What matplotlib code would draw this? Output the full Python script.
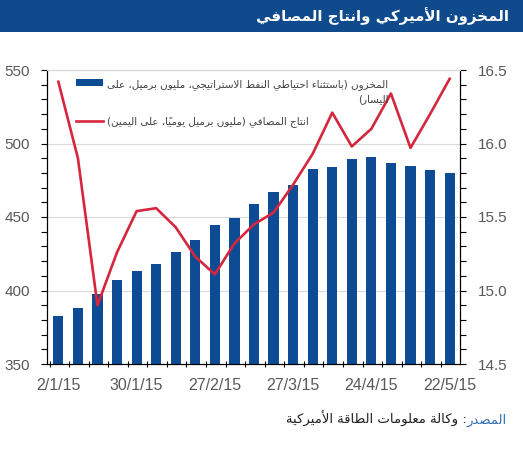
import matplotlib
matplotlib.use("Agg")
import matplotlib.pyplot as plt
from matplotlib.ticker import MultipleLocator, FixedLocator
import numpy as np

# ---------------- data ----------------
dates = ["2/1/15", "9/1/15", "16/1/15", "23/1/15", "30/1/15", "6/2/15", "13/2/15",
         "20/2/15", "27/2/15", "6/3/15", "13/3/15", "20/3/15", "27/3/15", "3/4/15",
         "10/4/15", "17/4/15", "24/4/15", "1/5/15", "8/5/15", "15/5/15", "22/5/15"]
stocks = [382.7, 387.9, 397.6, 407.1, 413.3, 418.2, 426.0, 434.4, 444.3, 449.3, 458.6,
          466.8, 471.5, 482.7, 483.8, 489.2, 491.0, 487.0, 484.9, 482.2, 479.7]
refinery = [16.42, 15.90, 14.90, 15.26, 15.54, 15.56, 15.43, 15.23, 15.11, 15.32, 15.45,
            15.53, 15.72, 15.93, 16.21, 15.98, 16.10, 16.34, 15.97, 16.20, 16.44]
label_every = 4

title_txt = "المخزون الأميركي وانتاج المصافي"
leg1_l1 = "المخزون (باستثناء احتياطي النفط الاستراتيجي، مليون برميل، على"
leg1_l2 = "اليسار)"
leg2_txt = "انتاج المصافي (مليون برميل يومياً، على اليمين)"
src_head = "المصدر"
src_body = ": وكالة معلومات الطاقة الأميركية"

# ---------------- minimal Arabic shaping ----------------
_ranges = [('\u0621', 0xFE80, 1), ('\u0622', 0xFE81, 2), ('\u0623', 0xFE83, 2),
           ('\u0624', 0xFE85, 2), ('\u0625', 0xFE87, 2), ('\u0626', 0xFE89, 4),
           ('\u0627', 0xFE8D, 2), ('\u0628', 0xFE8F, 4), ('\u0629', 0xFE93, 2),
           ('\u062A', 0xFE95, 4), ('\u062B', 0xFE99, 4), ('\u062C', 0xFE9D, 4),
           ('\u062D', 0xFEA1, 4), ('\u062E', 0xFEA5, 4), ('\u062F', 0xFEA9, 2),
           ('\u0630', 0xFEAB, 2), ('\u0631', 0xFEAD, 2), ('\u0632', 0xFEAF, 2),
           ('\u0633', 0xFEB1, 4), ('\u0634', 0xFEB5, 4), ('\u0635', 0xFEB9, 4),
           ('\u0636', 0xFEBD, 4), ('\u0637', 0xFEC1, 4), ('\u0638', 0xFEC5, 4),
           ('\u0639', 0xFEC9, 4), ('\u063A', 0xFECD, 4), ('\u0641', 0xFED1, 4),
           ('\u0642', 0xFED5, 4), ('\u0643', 0xFED9, 4), ('\u0644', 0xFEDD, 4),
           ('\u0645', 0xFEE1, 4), ('\u0646', 0xFEE5, 4), ('\u0647', 0xFEE9, 4),
           ('\u0648', 0xFEED, 2), ('\u0649', 0xFEEF, 2), ('\u064A', 0xFEF1, 4)]
FORMS = {c: tuple(chr(s + k) for k in range(n)) for c, s, n in _ranges}
LAMALEF = {'\u0622': ('\uFEF5', '\uFEF6'), '\u0623': ('\uFEF7', '\uFEF8'),
           '\u0625': ('\uFEF9', '\uFEFA'), '\u0627': ('\uFEFB', '\uFEFC')}
MIRROR = {'(': ')', ')': '('}


def shape(s):
    toks = []
    i = 0
    while i < len(s):
        c = s[i]
        if '\u064B' <= c <= '\u0652' and toks:
            toks[-1][1].append(c)
            i += 1
            continue
        if c == '\u0644' and i + 1 < len(s) and s[i + 1] in LAMALEF:
            toks.append([('LA', s[i + 1]), []])
            i += 2
            continue
        toks.append([c, []])
        i += 1

    def kind(t):
        if isinstance(t, tuple):
            return 'R'
        n = len(FORMS.get(t, ()))
        return 'D' if n == 4 else ('R' if n == 2 else 'U')

    out = []
    for k, (t, marks) in enumerate(toks):
        kd = kind(t)
        pk = kind(toks[k - 1][0]) if k > 0 else 'U'
        nk = kind(toks[k + 1][0]) if k + 1 < len(toks) else 'U'
        jp = kd in 'DR' and pk == 'D'
        jn = kd == 'D' and nk in 'DR'
        if isinstance(t, tuple):
            g = LAMALEF[t[1]][1 if jp else 0]
        elif kd == 'U':
            g = FORMS[t][0] if t in FORMS else MIRROR.get(t, t)
        else:
            f = FORMS[t]
            idx = 3 if (jp and jn) else (1 if jp else (2 if jn else 0))
            g = f[idx]
        out.append(g + ''.join(marks))
    return ''.join(reversed(out))


# ---------------- figure ----------------
plt.rcParams['font.family'] = ['Liberation Sans', 'DejaVu Sans']
fig = plt.figure(figsize=(5.23, 4.5), dpi=100)

# title band
fig.patches.append(plt.Rectangle((0, 1 - 32 / 450), 1, 32 / 450, transform=fig.transFigure,
                                 facecolor='#0f4a8c', edgecolor='none', zorder=0))
fig.text(509 / 523, 1 - 16 / 450, shape(title_txt), color='white', fontsize=10.8,
         fontweight='bold', ha='right', va='center', family=['DejaVu Sans'])

ax = fig.add_axes([47 / 523, (450 - 364) / 450, 413 / 523, 294 / 450])
x = np.arange(len(dates))
bars = ax.bar(x, stocks, width=0.52, color='#0d4c94', zorder=2)
ax.set_ylim(350, 550)
ax.set_xlim(-0.58, len(dates) - 1 + 0.53)
ax.yaxis.set_major_locator(MultipleLocator(50))
ax.yaxis.set_minor_locator(MultipleLocator(10))
ax.grid(axis='y', color='#d9d9d9', linewidth=0.8, zorder=0)
ax.set_axisbelow(True)

ax.set_xticks(x[::label_every])
ax.set_xticklabels(dates[::label_every])
ax.xaxis.set_minor_locator(FixedLocator(np.arange(len(dates) + 1) - 0.45))
ax.tick_params(axis='x', which='major', length=0, pad=10, labelsize=11.5, labelcolor='#595959')
ax.tick_params(axis='x', which='minor', length=5, direction='inout', width=0.8)
ax.tick_params(axis='y', which='both', length=4, direction='out', width=0.8,
               labelsize=11, labelcolor='#595959', pad=8)

ax2 = ax.twinx()
line, = ax2.plot(x, refinery, color='#d5263d', linewidth=1.9, zorder=3)
ax2.set_ylim(14.5, 16.5)
ax2.yaxis.set_major_locator(MultipleLocator(0.5))
ax2.yaxis.set_minor_locator(MultipleLocator(0.1))
ax2.yaxis.set_major_formatter(matplotlib.ticker.FormatStrFormatter('%.1f'))
ax2.tick_params(axis='y', which='both', length=4, direction='out', width=0.8,
                labelsize=11, labelcolor='#595959', pad=9)

for a in (ax, ax2):
    a.spines['top'].set_color('#d9d9d9')
    a.spines['left'].set_linewidth(0.8)
    a.spines['right'].set_linewidth(0.8)
    a.spines['bottom'].set_linewidth(0.8)

leg = ax2.legend([bars, line],
                 [shape(leg1_l1) + "\n" + shape(leg1_l2), shape(leg2_txt)],
                 loc='upper left', bbox_to_anchor=(0.055, 0.99), frameon=False,
                 prop={'family': 'DejaVu Sans', 'size': 7.5}, handlelength=2.6,
                 handletextpad=0.4, labelspacing=1.25, borderaxespad=0.2)
for t in leg.get_texts():
    t.set_color('#404040')
    t.set_multialignment('right')
    t.set_linespacing(1.45)
try:
    leg._legend_handle_box.get_children()[0].get_children()[0].align = 'top'
except Exception:
    pass

# source line
head = fig.text(507 / 523, 1 - 420 / 450, shape(src_head), color='#2e6db5', fontsize=9.5,
                ha='right', va='center', family=['DejaVu Sans'])
ax.annotate(shape(src_body), xy=(0, 0), xycoords=head, ha='right', va='bottom',
            color='#202020', fontsize=9.5, family=['DejaVu Sans'], annotation_clip=False)

fig.savefig('out.png', dpi=100)
